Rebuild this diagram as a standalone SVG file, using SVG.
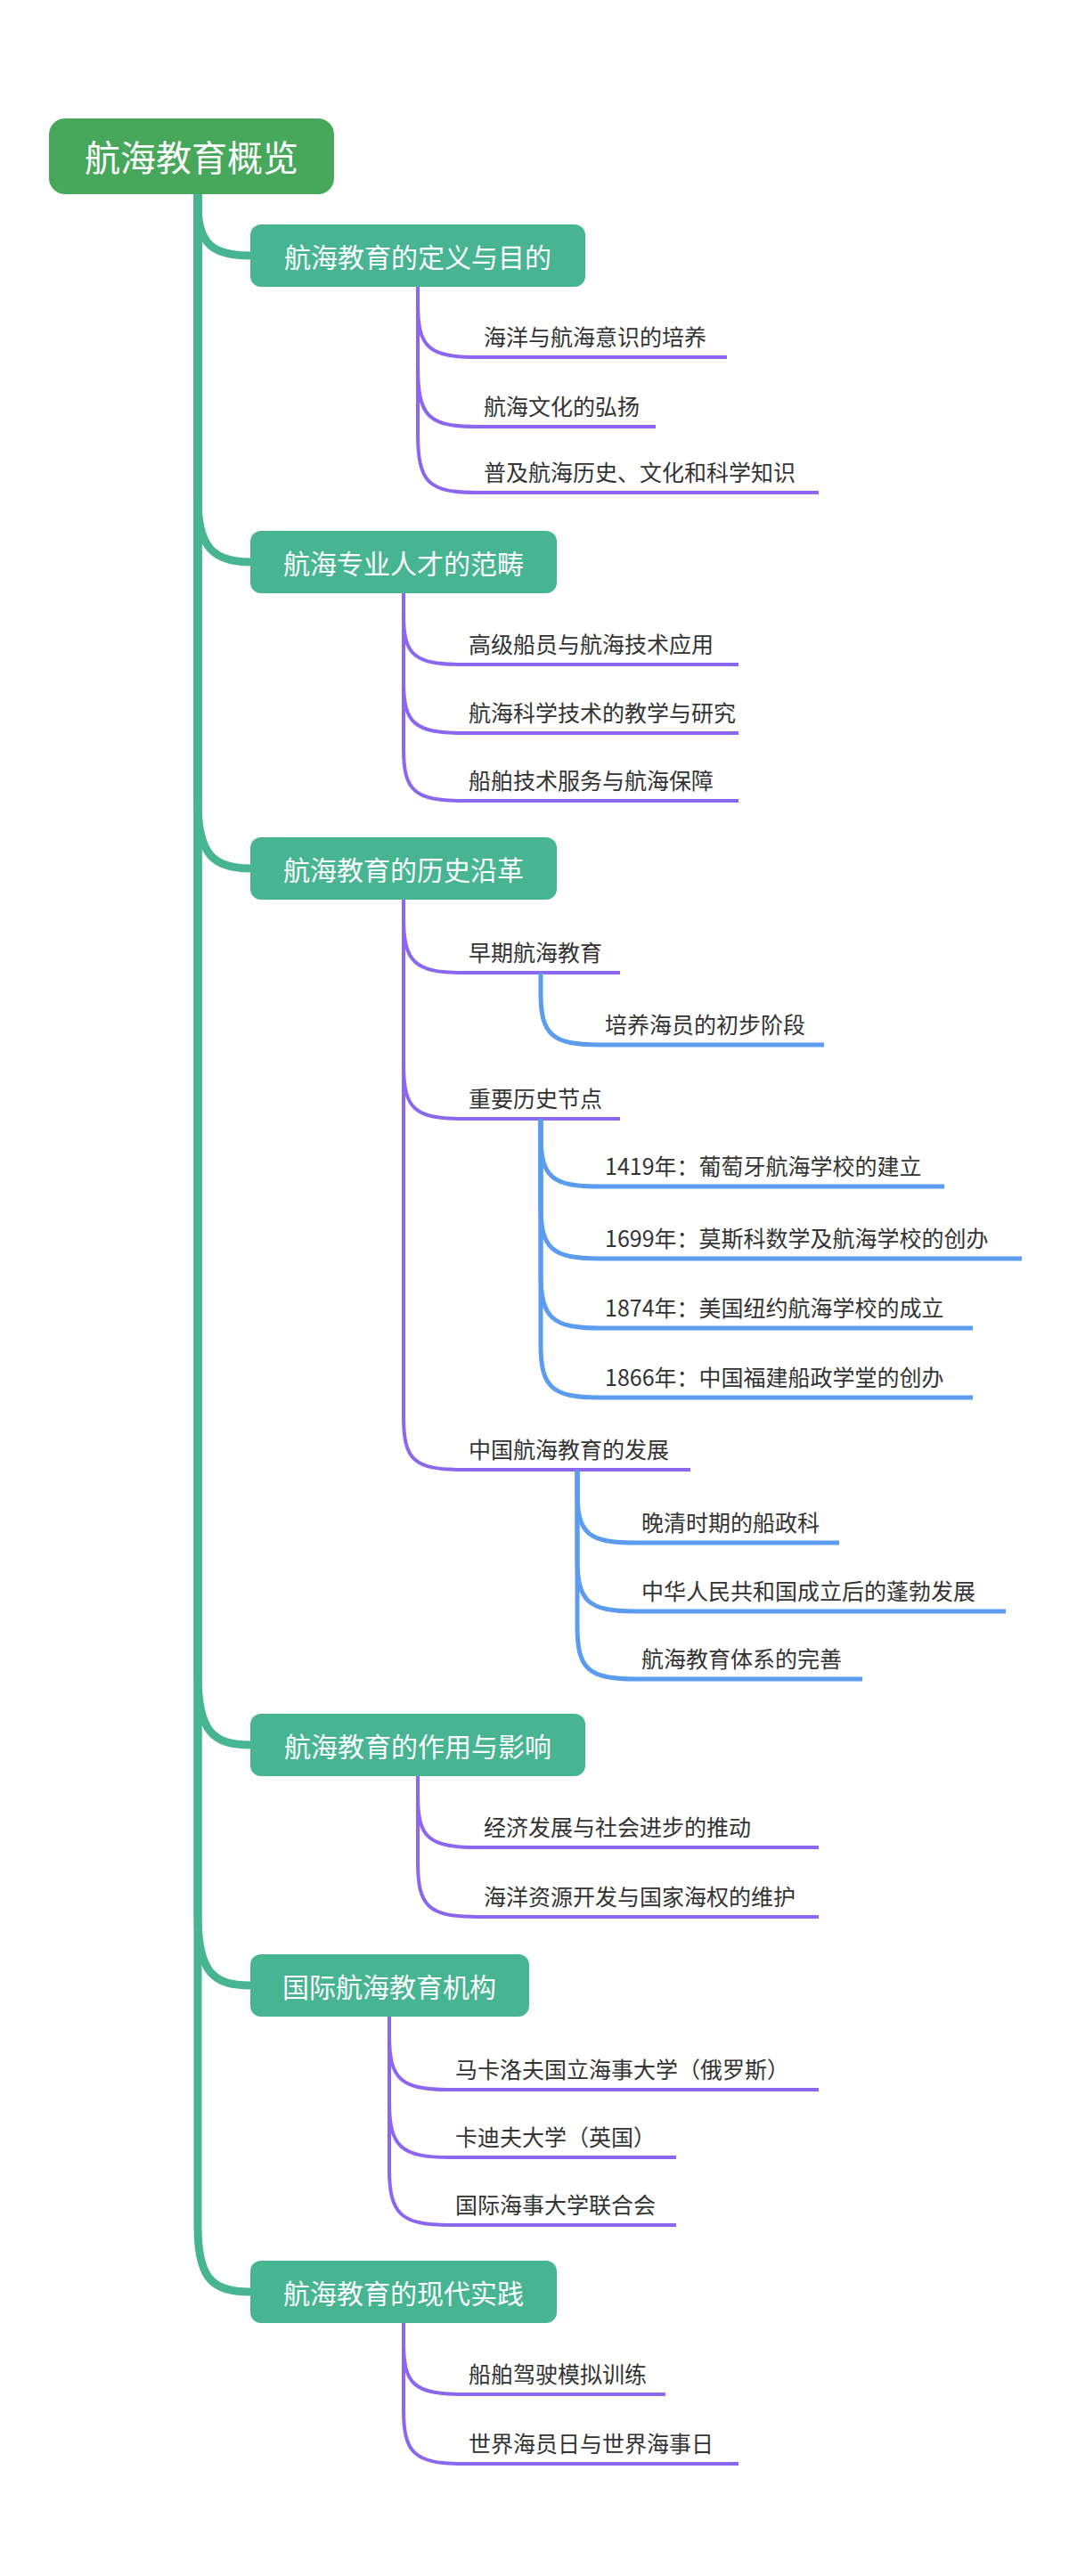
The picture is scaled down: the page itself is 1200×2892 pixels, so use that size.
<svg xmlns="http://www.w3.org/2000/svg" width="1200" height="2892" viewBox="0 0 1200 2892">
<style>
text{font-family:"Noto Sans CJK SC","Noto Sans",sans-serif}
.t{fill:#fff;font-size:30px;text-anchor:middle;dominant-baseline:central}
.r{fill:#fff;font-size:40px;text-anchor:middle;dominant-baseline:central}
.c{fill:#333;font-size:25px}
.tr{fill:none;stroke:#47b592;stroke-width:9;stroke-linecap:round}
.p{fill:none;stroke:#8b67f0;stroke-width:4}
.b{fill:none;stroke:#5b9cf0;stroke-width:5}
.n{fill:#47b592}
</style>
<g id="connectors">
<path class="tr" d="M222,210 L222,230 C222,275 240,287 281,287"/>
<path class="tr" d="M222,210 L222,560 C222,615 240,631 281,631"/>
<path class="tr" d="M222,210 L222,900 C222,960 240,975 281,975"/>
<path class="tr" d="M222,210 L222,1880 C222,1945 240,1959 281,1959"/>
<path class="tr" d="M222,210 L222,2150 C222,2215 240,2229 281,2229"/>
<path class="tr" d="M222,210 L222,2500 C222,2560 240,2573 281,2573"/>
<g class="p">
<path d="M469,322 L469,340 C469,390 480,401 537,401 H816"/>
<path d="M469,322 L469,410 C469,468 480,479 537,479 H736"/>
<path d="M469,322 L469,485 C469,542 480,553 537,553 H919"/>
<path d="M453,666 L453,690 C453,736 465,746 520,746 H829"/>
<path d="M453,666 L453,765 C453,812 465,823 520,823 H829"/>
<path d="M453,666 L453,840 C453,888 465,899 520,899 H829"/>
<path d="M453,1010 L453,1030 C453,1080 465,1092 520,1092 H696"/>
<path d="M453,1010 L453,1195 C453,1245 465,1256 520,1256 H696"/>
<path d="M453,1010 L453,1590 C453,1640 465,1650 520,1650 H775"/>
<path d="M469,1994 L469,2015 C469,2063 480,2074 537,2074 H919"/>
<path d="M469,1994 L469,2090 C469,2140 480,2152 537,2152 H919"/>
<path d="M437,2264 L437,2285 C437,2335 450,2346 505,2346 H919"/>
<path d="M437,2264 L437,2360 C437,2410 450,2422 505,2422 H759"/>
<path d="M437,2264 L437,2435 C437,2486 450,2498 505,2498 H759"/>
<path d="M453,2608 L453,2630 C453,2677 465,2688 520,2688 H747"/>
<path d="M453,2608 L453,2705 C453,2754 465,2766 520,2766 H829"/>
</g>
<g class="b">
<path d="M607,1092 L607,1115 C607,1162 620,1173 673,1173 H925"/>
<path d="M607,1256 L607,1275 C607,1322 620,1332 673,1332 H1060"/>
<path d="M607,1256 L607,1355 C607,1402 620,1413 673,1413 H1147"/>
<path d="M607,1256 L607,1430 C607,1480 620,1491 673,1491 H1092"/>
<path d="M607,1256 L607,1510 C607,1558 620,1569 673,1569 H1092"/>
<path d="M648,1650 L648,1675 C648,1722 660,1732 714,1732 H942"/>
<path d="M648,1650 L648,1750 C648,1798 660,1809 714,1809 H1129"/>
<path d="M648,1650 L648,1825 C648,1874 660,1885 714,1885 H968"/>
</g>
</g>
<g id="root"><rect x="55" y="133" width="320" height="85" rx="18" fill="#47a75b"/><text class="r" x="215" y="175">航海教育概览</text></g>
<g id="n1"><rect class="n" x="281" y="252" width="376" height="70" rx="12"/><text class="t" x="469" y="287">航海教育的定义与目的</text></g>
<g id="n2"><rect class="n" x="281" y="596" width="344" height="70" rx="12"/><text class="t" x="453" y="631">航海专业人才的范畴</text></g>
<g id="n3"><rect class="n" x="281" y="940" width="344" height="70" rx="12"/><text class="t" x="453" y="975">航海教育的历史沿革</text></g>
<g id="n4"><rect class="n" x="281" y="1924" width="376" height="70" rx="12"/><text class="t" x="469" y="1959">航海教育的作用与影响</text></g>
<g id="n5"><rect class="n" x="281" y="2194" width="313" height="70" rx="12"/><text class="t" x="437" y="2229">国际航海教育机构</text></g>
<g id="n6"><rect class="n" x="281" y="2538" width="344" height="70" rx="12"/><text class="t" x="453" y="2573">航海教育的现代实践</text></g>
<g id="c1"><text class="c" x="543" y="388">海洋与航海意识的培养</text></g>
<g id="c2"><text class="c" x="543" y="466">航海文化的弘扬</text></g>
<g id="c3"><text class="c" x="543" y="540">普及航海历史、文化和科学知识</text></g>
<g id="c4"><text class="c" x="526" y="733">高级船员与航海技术应用</text></g>
<g id="c5"><text class="c" x="526" y="810">航海科学技术的教学与研究</text></g>
<g id="c6"><text class="c" x="526" y="886">船舶技术服务与航海保障</text></g>
<g id="c7"><text class="c" x="526" y="1079">早期航海教育</text></g>
<g id="c8"><text class="c" x="679" y="1160">培养海员的初步阶段</text></g>
<g id="c9"><text class="c" x="526" y="1243">重要历史节点</text></g>
<g id="c10"><text class="c" x="679" y="1319">1419年：葡萄牙航海学校的建立</text></g>
<g id="c11"><text class="c" x="679" y="1400">1699年：莫斯科数学及航海学校的创办</text></g>
<g id="c12"><text class="c" x="679" y="1478">1874年：美国纽约航海学校的成立</text></g>
<g id="c13"><text class="c" x="679" y="1556">1866年：中国福建船政学堂的创办</text></g>
<g id="c14"><text class="c" x="526" y="1637">中国航海教育的发展</text></g>
<g id="c15"><text class="c" x="720" y="1719">晚清时期的船政科</text></g>
<g id="c16"><text class="c" x="720" y="1796">中华人民共和国成立后的蓬勃发展</text></g>
<g id="c17"><text class="c" x="720" y="1872">航海教育体系的完善</text></g>
<g id="c18"><text class="c" x="543" y="2061">经济发展与社会进步的推动</text></g>
<g id="c19"><text class="c" x="543" y="2139">海洋资源开发与国家海权的维护</text></g>
<g id="c20"><text class="c" x="511" y="2333">马卡洛夫国立海事大学（俄罗斯）</text></g>
<g id="c21"><text class="c" x="511" y="2409">卡迪夫大学（英国）</text></g>
<g id="c22"><text class="c" x="511" y="2485">国际海事大学联合会</text></g>
<g id="c23"><text class="c" x="526" y="2675">船舶驾驶模拟训练</text></g>
<g id="c24"><text class="c" x="526" y="2753">世界海员日与世界海事日</text></g>
</svg>
